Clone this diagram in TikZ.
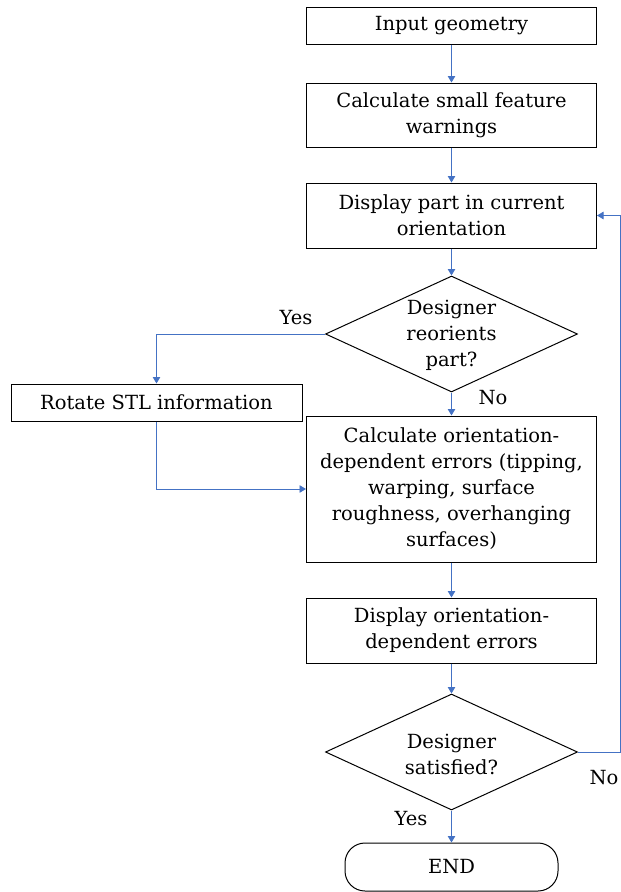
\documentclass[tikz,border=0pt]{standalone}
\usepackage{fontspec}
\setmainfont{DejaVu Serif}
\usetikzlibrary{shapes.geometric,arrows.meta}
\definecolor{flowblue}{HTML}{4472C4}
\begin{document}
\begin{tikzpicture}[x=1pt,y=-1pt,
  every node/.style={font=\fontsize{19.5}{26}\selectfont},
  procbox/.style={draw=black,line width=1pt,align=center,inner sep=0pt,minimum width=290pt},
  decbox/.style={draw=black,line width=1pt,diamond,inner sep=0pt,minimum width=252pt,minimum height=116pt},
  dectext/.style={align=center,inner sep=0pt},
  termbox/.style={draw=black,line width=1pt,rounded corners=20pt,inner sep=0pt,minimum width=213pt,minimum height=48pt},
  flow/.style={draw=flowblue,line width=0.9pt,-{Triangle[length=6.5pt,width=7.5pt]}},
  lbl/.style={inner sep=0pt}]
\useasboundingbox (0,0) rectangle (621,892);
\node[procbox,minimum height=37pt] (in) at (451.5,25.5) {Input geometry};
\node[procbox,minimum height=64pt] (calc1) at (451.5,115) {Calculate small feature\\warnings};
\node[procbox,minimum height=65pt] (disp) at (451.5,215.5) {Display part in current\\orientation};
\node[decbox] (d1) at (451.5,334) {};
\node[dectext] (d1t) at (451.5,335) {Designer\\reorients\\part?};
\node[procbox,minimum width=291pt,minimum height=37pt] (rot) at (156.5,402.5) {Rotate STL information};
\node[procbox,minimum height=146pt] (calc2) at (451.5,489) {Calculate orientation-\\dependent errors (tipping,\\warping, surface\\roughness, overhanging\\surfaces)};
\node[procbox,minimum height=65pt] (disp2) at (451.5,630.5) {Display orientation-\\dependent errors};
\node[decbox] (d2) at (451.5,752) {};
\node[dectext] (d2t) at (451.5,754) {Designer\\satisfied?};
\node[termbox] (end) at (451.5,867) {END};
\coordinate (lp) at (620,752);
\node[lbl] (yes1) at (296,318) {Yes};
\node[lbl] (no1) at (493,398) {No};
\node[lbl] (no2) at (604,778) {No};
\node[lbl] (yes2) at (411,819) {Yes};
\draw[flow] (in) -- (calc1);
\draw[flow] (calc1) -- (disp);
\draw[flow] (disp) -- (d1.north);
\draw[flow] (d1.south) -- (calc2.north);
\draw[flow] (d1.west) -| (rot.north);
\draw[flow] (rot.south) |- (calc2.west);
\draw[flow] (calc2) -- (disp2);
\draw[flow] (disp2) -- (d2.north);
\draw[flow] (d2.south) -- (end.north);
\draw[flow] (d2.east) -- (lp) |- (disp.east);
\end{tikzpicture}
\end{document}
